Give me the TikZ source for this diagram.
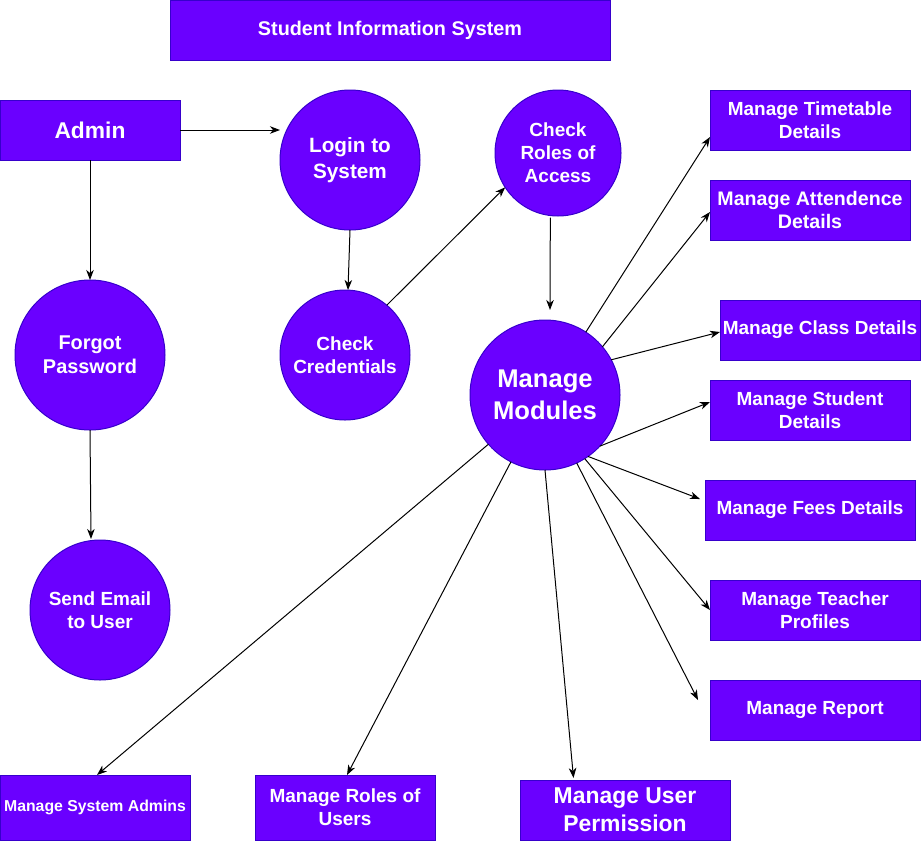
\documentclass[tikz,border=0pt]{standalone}
\usepackage{fontspec}
\setmainfont{Liberation Sans}
\usetikzlibrary{arrows.meta}
\definecolor{purp}{HTML}{6A00FF}
\definecolor{purpline}{HTML}{3700CC}
\tikzset{
  box/.style={draw=purpline, fill=purp, line width=1pt, text=white, inner sep=0pt, outer sep=0pt,
    align=center, font=\bfseries\fontsize{19}{23}\selectfont},
  circ/.style={circle, draw=purpline, fill=purp, line width=1pt, text=white, inner sep=0pt, outer sep=0pt,
    align=center, font=\bfseries\fontsize{19}{23}\selectfont},
  conn/.style={draw=black, line width=1pt, -{Stealth[length=10pt,width=7.5pt,inset=3pt]}}
}
\begin{document}
\begin{tikzpicture}[x=1pt,y=-1pt]
\useasboundingbox (0,0) rectangle (921,841);
% title
\node[box, minimum width=440, minimum height=60, font=\bfseries\fontsize{19.8}{24}\selectfont] (title) at (390,30) {Student Information System};
% left / top
\node[box, minimum width=180, minimum height=60, font=\bfseries\fontsize{22.8}{27}\selectfont] (adm) at (90,130) {Admin};
\node[circ, minimum size=140, font=\bfseries\fontsize{20.7}{26}\selectfont] (lg) at (350,160) {Login to\\System};
\node[circ, minimum size=126] (cr) at (558,153) {Check\\Roles of\\Access};
\node[circ, minimum size=130] (cc) at (345,355) {Check\\Credentials};
\node[circ, minimum size=150, font=\bfseries\fontsize{19.9}{24}\selectfont] (fp) at (90,355) {Forgot\\Password};
\node[circ, minimum size=140] (se) at (100,610) {Send Email\\to User};
\node[circ, minimum size=150, font=\bfseries\fontsize{25.6}{32}\selectfont] (mm) at (545,395) {Manage\\Modules};
% right boxes
\node[box, minimum width=200, minimum height=60] (tt) at (810,120) {Manage Timetable\\Details};
\node[box, minimum width=200, minimum height=60, font=\bfseries\fontsize{19.6}{23.5}\selectfont] (at) at (810,210) {Manage Attendence\\Details};
\node[box, minimum width=200, minimum height=60] (cl) at (820,330) {Manage Class Details};
\node[box, minimum width=200, minimum height=60] (st) at (810,410) {Manage Student\\Details};
\node[box, minimum width=210, minimum height=60] (fe) at (810,510) {Manage Fees Details};
\node[box, minimum width=210, minimum height=60] (te) at (815,610) {Manage Teacher\\Profiles};
\node[box, minimum width=210, minimum height=60] (rp) at (815,710) {Manage Report};
% bottom boxes
\node[box, minimum width=190, minimum height=65, font=\bfseries\fontsize{15.8}{19}\selectfont] (sa) at (95,807.5) {Manage System Admins};
\node[box, minimum width=180, minimum height=65] (ru) at (345,807.5) {Manage Roles of\\Users};
\node[box, minimum width=210, minimum height=60, font=\bfseries\fontsize{22.9}{28}\selectfont] (up) at (625,810) {Manage User\\Permission};
% connectors
\draw[conn] (adm.east) -- ([yshift=30]lg.west);
\draw[conn] (adm.south) -- (fp.north);
\draw[conn] (fp.south) -- ([xshift=-9,yshift=1]se.north);
\draw[conn] (lg.south) -- ([xshift=3]cc.north);
\draw[conn] (cc.50) -- (cr.213);
\draw[conn] ([yshift=-2]cr.-97) -- ([xshift=5,yshift=10]mm.north);
\draw[conn] (mm.57) -- ([yshift=-17]tt.west);
\draw[conn] (mm.40) -- ([yshift=-2]at.west);
\draw[conn] (mm.28) -- ([yshift=-2]cl.west);
\draw[conn] (mm.-43) -- ([yshift=8]st.west);
\draw[conn] (mm.-55) -- ([xshift=-5,yshift=11]fe.west);
\draw[conn] (mm.-58) -- (te.west);
\draw[conn] (mm.-65) -- ([xshift=-12,yshift=10]rp.west);
\draw[conn] (mm.south) -- ([xshift=-51.5,yshift=2]up.north);
\draw[conn] (mm.-117) -- ([xshift=2]ru.north);
\draw[conn] (mm.-139) -- ([xshift=2]sa.north);
\end{tikzpicture}
\end{document}
